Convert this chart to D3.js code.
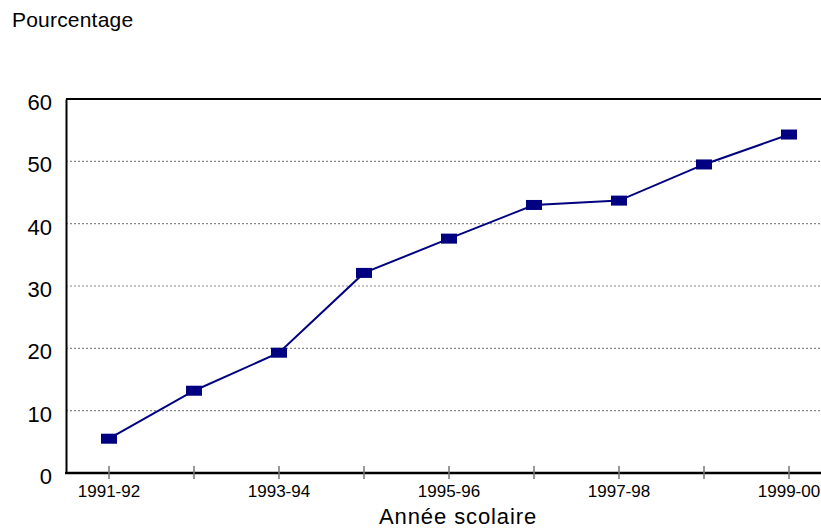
<!DOCTYPE html>
<html><head><meta charset="utf-8">
<script src="https://cdn.jsdelivr.net/npm/d3@7"></script>
<style>body{margin:0;background:#fff}svg{display:block;font-family:"Liberation Sans",Arial,sans-serif}</style>
</head><body>
<svg id="c" width="821" height="529"></svg>
<script>
const categories = ["1991-92","1992-93","1993-94","1994-95","1995-96","1996-97","1997-98","1998-99","1999-00"];
const values = [5.5, 13.2, 19.3, 32.1, 37.6, 43.0, 43.7, 49.5, 54.3];
const yTicks = [0,10,20,30,40,50,60];
const xLabels = ["1991-92","1993-94","1995-96","1997-98","1999-00"];

const svg = d3.select("#c");
const mLeft = 66, mRight = 821, mTop = 99, mBottom = 473;
const step = 85;
const x = d3.scalePoint().domain(categories).range([109, 109 + step*8]);
const y = d3.scaleLinear().domain([0,60]).range([mBottom, mTop]);

// gridlines
svg.append("g").selectAll("line").data(yTicks.filter(d=>d>0 && d<60)).join("line")
  .attr("x1", mLeft).attr("x2", mRight).attr("y1", d=>y(d)).attr("y2", d=>y(d))
  .attr("stroke", "#888").attr("stroke-width", 1.2).attr("stroke-dasharray", "2,2");
// top line
svg.append("line").attr("x1", mLeft).attr("x2", mRight).attr("y1", y(60)).attr("y2", y(60))
  .attr("stroke", "#000").attr("stroke-width", 2);

// y axis
const ya = svg.append("g").attr("transform", `translate(${mLeft},0)`)
  .call(d3.axisLeft(y).tickValues(yTicks).tickSize(0).tickPadding(14));
ya.select(".domain").attr("stroke", "#000").attr("stroke-width", 2);
ya.selectAll("text").attr("font-size", 22).attr("fill", "#000").attr("dy", "0.48em")
  .attr("font-family", "Liberation Sans, Arial, sans-serif");

// x axis line
svg.append("line").attr("x1", mLeft-1).attr("x2", mRight).attr("y1", mBottom).attr("y2", mBottom)
  .attr("stroke", "#000").attr("stroke-width", 2.5);
// x ticks
svg.append("g").selectAll("line").data(categories).join("line")
  .attr("x1", d=>x(d)).attr("x2", d=>x(d)).attr("y1", mBottom-7).attr("y2", mBottom+6)
  .attr("stroke", "#777").attr("stroke-width", 1.5);
svg.append("g").selectAll("text").data(xLabels).join("text")
  .attr("x", d=>x(d)).attr("y", 497).attr("text-anchor", "middle")
  .attr("font-size", 17).attr("fill", "#000").text(d=>d);

// line
const line = d3.line().x((d,i)=>x(categories[i])).y(d=>y(d));
svg.append("path").datum(values).attr("d", line)
  .attr("fill", "none").attr("stroke", "#000080").attr("stroke-width", 2);
svg.append("g").selectAll("rect").data(values).join("rect")
  .attr("x", (d,i)=>x(categories[i])-8).attr("y", d=>y(d)-5)
  .attr("width", 16).attr("height", 10).attr("fill", "#000080");

// titles
svg.append("text").attr("x", 12).attr("y", 27).attr("font-size", 21).attr("letter-spacing", 0.2)
  .attr("fill", "#000").text("Pourcentage");
svg.append("text").attr("x", 379).attr("y", 524).attr("font-size", 22).attr("letter-spacing", 0.9)
  .attr("fill", "#000").text("Année scolaire");
</script>
</body></html>
